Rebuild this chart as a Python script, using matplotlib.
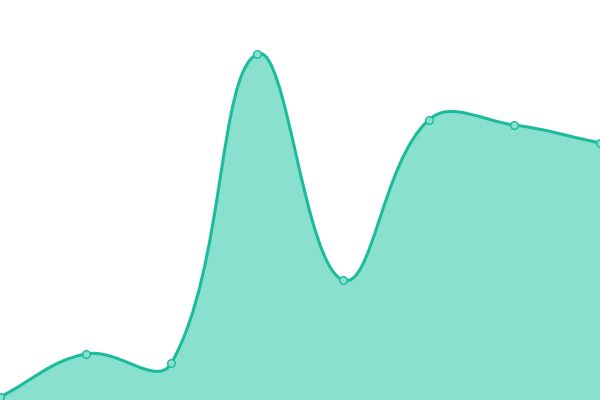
import numpy as np
import matplotlib
matplotlib.use("Agg")
import matplotlib.pyplot as plt
from matplotlib.path import Path
from matplotlib.patches import PathPatch

# values (axis hidden, 0..400 scale)
labels = ["A", "B", "C", "D", "E", "F", "G", "H"]
values = [3, 46, 37, 346, 120, 280, 275, 257]

line_col = "#1abc9c"
fill_col = "#89e0cf"
tension = 0.4

x = np.linspace(0, 600, len(values))
y = np.array(values, dtype=float)


# chart.js style spline control points
def control_points(xs, ys, t):
    n = len(xs)
    cps = []
    for i in range(n):
        p0 = (xs[max(i - 1, 0)], ys[max(i - 1, 0)])
        p1 = (xs[i], ys[i])
        p2 = (xs[min(i + 1, n - 1)], ys[min(i + 1, n - 1)])
        d01 = np.hypot(p1[0] - p0[0], p1[1] - p0[1])
        d12 = np.hypot(p2[0] - p1[0], p2[1] - p1[1])
        tot = d01 + d12
        s01 = d01 / tot if tot else 0
        s12 = d12 / tot if tot else 0
        fa, fb = t * s01, t * s12
        prev = (p1[0] - fa * (p2[0] - p0[0]), p1[1] - fa * (p2[1] - p0[1]))
        nxt = (p1[0] + fb * (p2[0] - p0[0]), p1[1] + fb * (p2[1] - p0[1]))
        prev = (prev[0], min(max(prev[1], 0), 400))
        nxt = (nxt[0], min(max(nxt[1], 0), 400))
        cps.append((prev, nxt))
    return cps


cps = control_points(x, y, tension)

verts = [(x[0], y[0])]
codes = [Path.MOVETO]
for i in range(len(x) - 1):
    verts += [cps[i][1], cps[i + 1][0], (x[i + 1], y[i + 1])]
    codes += [Path.CURVE4] * 3

line_path = Path(verts, codes)
fill_path = Path(verts + [(x[-1], 0), (x[0], 0), (x[0], y[0])],
                 codes + [Path.LINETO, Path.LINETO, Path.CLOSEPOLY])

fig = plt.figure(figsize=(6, 4), dpi=100)
ax = fig.add_axes([0, 0, 1, 1])
ax.add_patch(PathPatch(fill_path, facecolor=fill_col, edgecolor="none"))
ax.add_patch(PathPatch(line_path, facecolor="none", edgecolor=line_col, lw=2.2))
ax.plot(x, y, "o", ms=5.5, mfc=fill_col, mec=line_col, mew=1, clip_on=False)

ax.set_xlim(0, 600)
ax.set_ylim(0, 400)
ax.axis("off")

fig.savefig("out.png", dpi=100)
